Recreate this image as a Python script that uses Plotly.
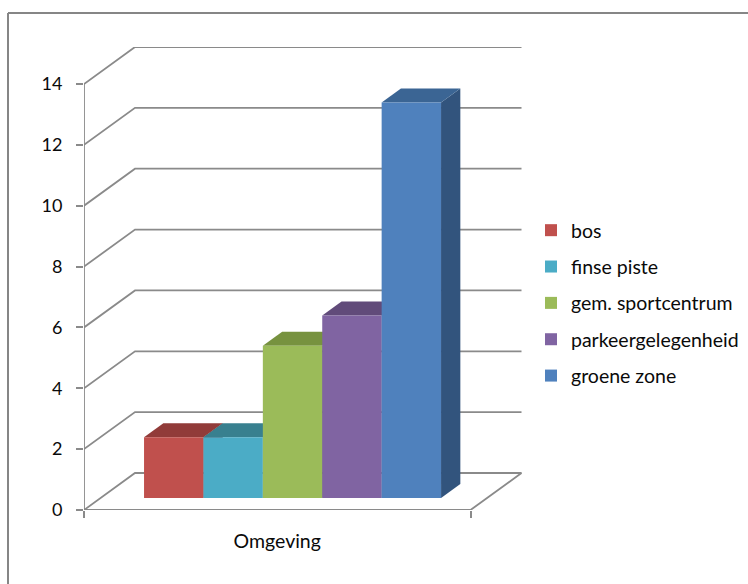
import plotly.graph_objects as go

# Data
categories = ["Omgeving"]
series_names = ["bos", "finse piste", "gem. sportcentrum", "parkeergelegenheid", "groene zone"]
series_values = [2, 2, 5, 6, 13]
y_ticks = [0, 2, 4, 6, 8, 10, 12, 14]

# Styles
front_colors = ["#C0504D", "#4BACC6", "#9BBB59", "#8064A2", "#4F81BD"]
top_colors = ["#913B39", "#38808F", "#77923F", "#614B7A", "#3B6594"]
side_colors = ["#7D3230", "#2F6E80", "#66803A", "#54426A", "#32547D"]
GREY = "#8A8A8A"
FONT = "Lato"

# Projection (oblique): one x-unit is the whole category width
PX_X = 386.5
PX_Y = 426.0 / 14
DEPTH_X = 51.0 / PX_X
DEPTH_Y = 37.0 / PX_Y
BAR_F0 = 12.0 / 37
BAR_F1 = 26.0 / 37
BAR_W = 59.4 / PX_X
GAP = 43.5 / PX_X


def proj(x, v, f):
    return x + f * DEPTH_X, v + f * DEPTH_Y


fig = go.Figure()

# Grid on the walls
gx, gy = [], []
for t in y_ticks[1:]:
    p0 = proj(0, t, 0); p1 = proj(0, t, 1); p2 = proj(1, t, 1)
    gx += [p0[0], p1[0], p2[0], None]
    gy += [p0[1], p1[1], p2[1], None]
# Floor and axis lines
f = [proj(0, 0, 0), proj(0, 0, 1), proj(1, 0, 1), proj(1, 0, 0), proj(0, 0, 0), proj(0, y_ticks[-1], 0)]
gx += [p[0] for p in f]
gy += [p[1] for p in f]
fig.add_trace(go.Scatter(x=gx, y=gy, mode="lines", showlegend=False, hoverinfo="skip",
                         line=dict(color=GREY, width=1.8), cliponaxis=False))

# Top and side faces on the main axes
for i, v in enumerate(series_values):
    xl = GAP + i * BAR_W
    xr = xl + BAR_W
    top = [proj(xl, v, BAR_F0), proj(xr, v, BAR_F0), proj(xr, v, BAR_F1), proj(xl, v, BAR_F1), proj(xl, v, BAR_F0)]
    side = [proj(xr, 0, BAR_F0), proj(xr, 0, BAR_F1), proj(xr, v, BAR_F1), proj(xr, v, BAR_F0), proj(xr, 0, BAR_F0)]
    for poly, col in ((side, side_colors[i]), (top, top_colors[i])):
        fig.add_trace(go.Scatter(x=[p[0] for p in poly], y=[p[1] for p in poly], mode="lines", fill="toself",
                                 fillcolor=col, line=dict(width=0, color=col), showlegend=False, hoverinfo="skip"))

# Front faces as real bars on an overlay pair of axes
for i, (name, v) in enumerate(zip(series_names, series_values)):
    cx = GAP + (i + 0.5) * BAR_W
    px, base = proj(cx, 0, BAR_F0)
    fig.add_trace(go.Bar(x=[px], y=[v], base=[base], width=[BAR_W], name=name, xaxis="x2", yaxis="y2",
                         legendgroup=name, marker=dict(color=front_colors[i], line=dict(width=0))))

PLOT_L, PLOT_W, PLOT_B, PLOT_H = 84.0, 438.0, 510.0, 463.0
x_range = [0, PLOT_W / PX_X]
y_range = [0, PLOT_H / PX_Y]
fig.update_layout(
    width=748, height=584, margin=dict(l=84, r=226, t=47, b=74, pad=0, autoexpand=False),
    paper_bgcolor="white", plot_bgcolor="white", barmode="overlay",
    font=dict(family=FONT, size=18, color="#0a0a0a"),
    xaxis=dict(range=x_range, showgrid=False, zeroline=False, showline=False,
               tickmode="array", tickvals=[0.5], ticktext=categories, ticks="",
               ticklabelstandoff=17, tickfont=dict(size=19.5),
               minor=dict(tickmode="array", tickvals=[0, 1], ticks="outside", ticklen=7, tickcolor=GREY, tickwidth=1.8, showgrid=False)),
    yaxis=dict(range=y_range, showgrid=False, zeroline=False, showline=False,
               tickmode="array", tickvals=y_ticks, ticks="outside", ticklen=7, tickcolor=GREY, tickwidth=1.8,
               ticklabelstandoff=10),
    xaxis2=dict(range=x_range, overlaying="x", visible=False),
    yaxis2=dict(range=y_range, overlaying="y", visible=False),
    legend=dict(x=(531 - PLOT_L) / PLOT_W, xanchor="left", y=(PLOT_B - 303) / PLOT_H, yanchor="middle", tracegroupgap=8,
                bgcolor="rgba(0,0,0,0)", font=dict(size=19.5)),
    shapes=[
        dict(type="line", xref="paper", yref="paper", x0=(8 - PLOT_L) / PLOT_W, x1=(748 - PLOT_L) / PLOT_W,
             y0=(PLOT_B - 13) / PLOT_H, y1=(PLOT_B - 13) / PLOT_H, line=dict(color="#868686", width=2)),
        dict(type="line", xref="paper", yref="paper", x0=(8 - PLOT_L) / PLOT_W, x1=(8 - PLOT_L) / PLOT_W,
             y0=(PLOT_B - 13) / PLOT_H, y1=(PLOT_B - 584) / PLOT_H, line=dict(color="#868686", width=2)),
    ],
)

fig.write_html("out.html", config={"displayModeBar": False}, post_script="document.body.style.margin='0';")
